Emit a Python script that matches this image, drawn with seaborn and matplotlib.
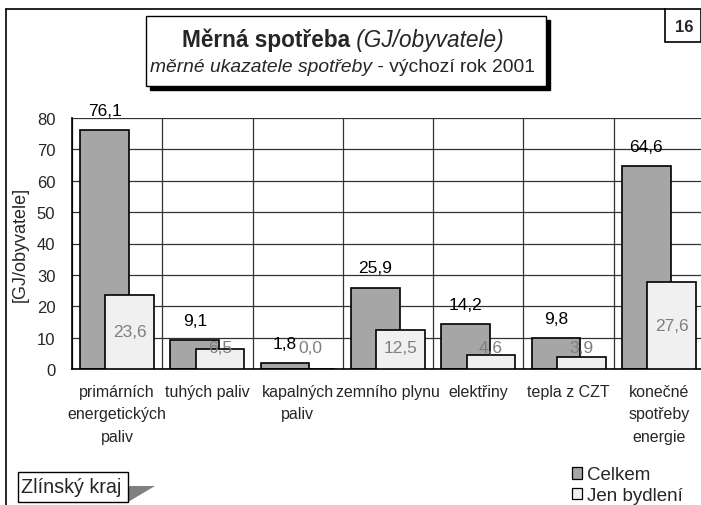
import matplotlib
matplotlib.use("Agg")
import matplotlib.pyplot as plt
from matplotlib.patches import Rectangle, Polygon
from matplotlib.lines import Line2D
import numpy as np
import seaborn as sns

# data
kategorie = ["primárních\nenergetických\npaliv", "tuhých paliv", "kapalných\npaliv",
             "zemního plynu", "elektřiny", "tepla z CZT", "konečné\nspotřeby\nenergie"]
celkem = [76.1, 9.1, 1.8, 25.9, 14.2, 9.8, 64.6]
bydleni = [23.6, 6.5, 0.0, 12.5, 4.6, 3.9, 27.6]
y_ticks = [0, 10, 20, 30, 40, 50, 60, 70, 80]

W, H = 701, 506
sns.set_style("white")
plt.rcParams["font.family"] = ["Liberation Sans", "DejaVu Sans"]


def fx(x):
    return x / W


def fy(y):
    return 1 - y / H


fig = plt.figure(figsize=(W / 100, H / 100), dpi=100)
ax = fig.add_axes([fx(72), fy(370), 632 / W, 251 / H])

sns.barplot(x=kategorie, y=celkem, color="#a6a6a6", edgecolor="black", linewidth=1.2,
            width=0.54, saturation=1, ax=ax, label="Celkem", zorder=2)
n = len(ax.patches)
sns.barplot(x=kategorie, y=bydleni, color="#f0f0f0", edgecolor="black", linewidth=1.2,
            width=0.54, saturation=1, ax=ax, label="Jen bydlení", zorder=3)
# overlapping bars like the Excel original
for i, p in enumerate(ax.patches):
    p.set_x(p.get_x() + (-0.14 if i < n else 0.14))

def fmt(v):
    return f"{v:.1f}".replace(".", ",")

for i, v in enumerate(celkem):
    ax.annotate(fmt(v), xy=(i - 0.14, v), xytext=(0, 9), textcoords="offset points",
                ha="center", va="bottom", fontsize=12.5, color="black")
for i, v in enumerate(bydleni):
    ax.text(i + 0.14, max(v / 2, 7), fmt(v), ha="center", va="center",
            fontsize=12.5, color="#7f7f7f", zorder=5)

ax.set_xlim(-0.5, 6.5)
ax.set_ylim(0, 80)
ax.set_yticks(y_ticks)
ax.set_xticks(np.arange(len(kategorie)))
ax.set_xticklabels(kategorie, linespacing=1.6)
ax.set_xticks(np.arange(len(kategorie) + 1) - 0.5, minor=True)
ax.tick_params(axis="x", which="major", length=0, pad=11, labelsize=11.5)
ax.tick_params(axis="x", which="minor", length=5, width=1, color="black", direction="out")
ax.tick_params(axis="y", length=5, width=1, color="black", direction="out", labelsize=12, pad=7)
ax.grid(True, axis="y", which="major", color="#333333", lw=0.9)
ax.grid(True, axis="x", which="minor", color="#333333", lw=0.9)
ax.set_axisbelow(True)
for s in ["top", "right"]:
    ax.spines[s].set_visible(False)
for s in ["left", "bottom"]:
    ax.spines[s].set_color("black")
    ax.spines[s].set_linewidth(1.2)
ax.set_ylabel("[GJ/obyvatele]", fontsize=13)
ax.yaxis.set_label_coords(-0.068, 0.5)
ax.set_xlabel("")

leg = ax.legend(loc="upper left", bbox_to_anchor=(fx(564), fy(460)), bbox_transform=fig.transFigure,
                frameon=False, fontsize=13.5, handlelength=0.55, handleheight=0.55,
                handletextpad=0.3, labelspacing=0.2, borderaxespad=0)
for h in leg.legend_handles:
    h.set_linewidth(0.9)

# frame of the page
fig.add_artist(Line2D([fx(6), fx(6)], [fy(10), fy(506)], color="black", lw=1.2))
fig.add_artist(Line2D([fx(6), fx(665)], [fy(10), fy(10)], color="black", lw=1.2))
fig.add_artist(Rectangle((fx(665), fy(43)), 36 / W, 33 / H, fc="white", ec="black", lw=1.2))
fig.text(fx(684), fy(27), "16", weight="bold", fontsize=12, ha="center", va="center")

# title box
fig.add_artist(Rectangle((fx(150), fy(91)), 400 / W, 70 / H, fc="black", ec="black", lw=1))
fig.add_artist(Rectangle((fx(146), fy(87)), 400 / W, 70 / H, fc="white", ec="black", lw=1))
t1 = fig.text(0, fy(40), "Měrná spotřeba", weight="bold", fontsize=16.3, va="center")
t2 = fig.text(0, 0, " (GJ/obyvatele)", style="italic", fontsize=16.3)
t3 = fig.text(0, fy(68), "měrné ukazatele spotřeby", style="italic", fontsize=13.9, va="center")
t4 = fig.text(0, 0, " - výchozí rok 2001", fontsize=13.9)

# Zlínský kraj box
fig.add_artist(Polygon([(fx(128), fy(487)), (fx(155), fy(487)), (fx(128), fy(503))],
                       closed=True, fc="#808080", ec="none"))
fig.add_artist(Rectangle((fx(18), fy(503)), 110 / W, 30 / H, fc="white", ec="black", lw=1))
fig.text(fx(21), fy(488), "Zlínský kraj", fontsize=14.2, va="center", ha="left")

fig.canvas.draw()
r = fig.canvas.get_renderer()
for a, b in [(t1, t2), (t3, t4)]:
    e1 = a.get_window_extent(r)
    e2 = b.get_window_extent(r)
    tot = e1.width + e2.width
    x0 = 343 - tot / 2
    a.set_x(fx(x0))
    e1 = a.get_window_extent(r)
    b.set_va(a.get_va())
    b.set_x(fx(x0 + e1.width))
    b.set_y(a.get_position()[1])

fig.savefig("out.png", dpi=100)
